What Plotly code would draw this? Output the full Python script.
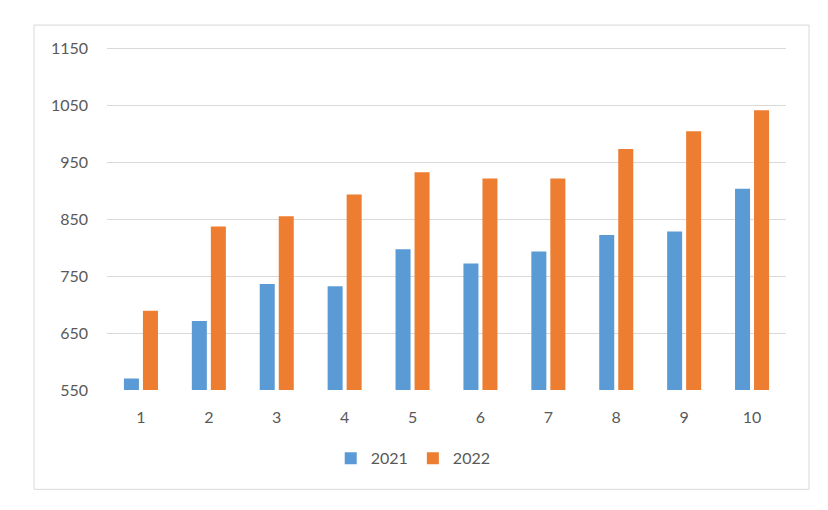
import plotly.graph_objects as go

categories = ["1", "2", "3", "4", "5", "6", "7", "8", "9", "10"]
values_2021 = [570, 671, 736, 732, 797, 772, 793, 822, 828, 903]
values_2022 = [689, 837, 855, 893, 932, 921, 921, 973, 1004, 1041]
series_names = ["2021", "2022"]
tick_values = [550, 650, 750, 850, 950, 1050, 1150]

font_family = "Lato, Open Sans, sans-serif"
text_color = "#595959"
grid_color = "#d9d9d9"

fig = go.Figure()
fig.add_trace(go.Bar(x=categories, y=values_2021, name=series_names[0],
                     marker=dict(color="#5b9bd5", line=dict(width=0))))
fig.add_trace(go.Bar(x=categories, y=values_2022, name=series_names[1],
                     marker=dict(color="#ed7d31", line=dict(width=0))))

fig.update_layout(
    width=820, height=502,
    margin=dict(l=99, r=42, t=39, b=120),
    paper_bgcolor="white", plot_bgcolor="white",
    barmode="group", bargap=0.44, bargroupgap=0.21,
    font=dict(family=font_family, size=16, color=text_color),
    showlegend=True,
    legend=dict(orientation="h", x=0.451, xanchor="center", y=-0.199, yanchor="middle",
                font=dict(size=16, color=text_color), itemwidth=30,
                bgcolor="rgba(0,0,0,0)"),
    xaxis=dict(type="category", showgrid=False, showline=False, zeroline=False,
               ticks="", ticklabelstandoff=16, tickfont=dict(size=16, color=text_color)),
    yaxis=dict(range=[550, 1152], tickvals=tick_values, showgrid=True, gridcolor=grid_color,
               gridwidth=1, zeroline=False, showline=False, ticks="",
               ticklabelstandoff=18, tickfont=dict(size=16, color=text_color)),
    shapes=[dict(type="rect", xref="paper", yref="paper",
                 x0=-0.1075, x1=1.0339, y0=-0.2895, y1=1.064,
                 line=dict(color=grid_color, width=1), fillcolor="rgba(0,0,0,0)", layer="below")],
)

fig.write_html("out.html")
